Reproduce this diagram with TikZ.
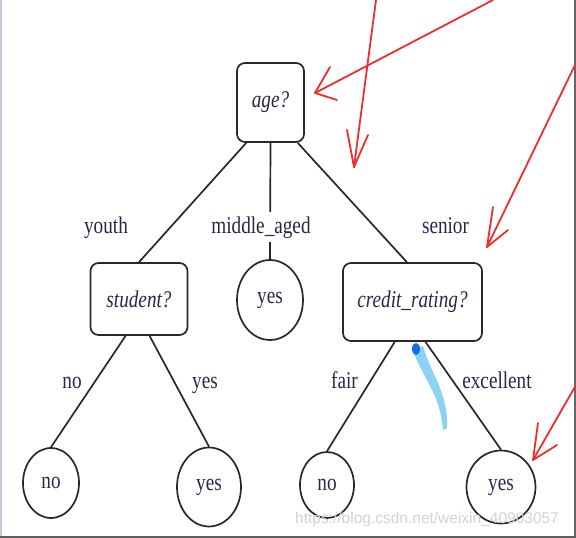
\documentclass[tikz,border=0pt]{standalone}
\usepackage{fontspec}
\setmainfont[FakeStretch=0.8]{Liberation Serif}
\newfontfamily\wmfont{Liberation Sans}
\usepackage{tikz}
\usetikzlibrary{positioning,shapes,calc}

\definecolor{ink}{RGB}{40,40,70}
\definecolor{edge}{RGB}{40,40,40}
\definecolor{mark}{RGB}{238,45,45}
\definecolor{pen}{RGB}{140,210,245}
\definecolor{pentop}{RGB}{20,110,225}
\newcommand{\treefont}{\fontsize{24pt}{28pt}\selectfont}

\begin{document}
\begin{tikzpicture}[x=1pt,y=-1pt,
    test/.style={draw=edge,line width=1.7pt,rounded corners=8pt,inner sep=0pt,
      font=\treefont\itshape,text=ink},
    leaf/.style={draw=edge,line width=1.7pt,ellipse,inner sep=0pt,
      font=\treefont,text=ink},
    lbl/.style={anchor=base,inner sep=0pt,font=\treefont,text=ink},
    branch/.style={draw=edge,line width=1.7pt},
    redmark/.style={draw=mark,line width=1.8pt,line cap=round,line join=round}]
      \useasboundingbox (0,0) rectangle (576,538);
      % frame of the screenshot
      \draw[line width=2pt,blue!25!gray!35] (1,0) -- (1,538);
      \draw[line width=1.5pt,gray!80!black] (575,0) -- (575,538);
      \draw[line width=2pt,gray!75!black] (0,536.5) -- (576,536.5);
      % tree
      \node[test,minimum width=67pt,minimum height=79pt] (age) at (270.5,102.5) {age?};
      \node[test,minimum width=97pt,minimum height=72pt] (student) at (139,299) {student?};
      \node[leaf,minimum width=66pt,minimum height=80pt] (mid) at (270,300) {yes};
      \node[test,minimum width=139pt,minimum height=78pt] (credit) at (412.5,302) {credit\_rating?};
      \node[leaf,minimum width=56pt,minimum height=70pt] (sno) at (51,483) {no};
      \node[leaf,minimum width=64pt,minimum height=79pt] (syes) at (209,487) {yes};
      \node[leaf,minimum width=54pt,minimum height=66pt] (cno) at (327,485) {no};
      \node[leaf,minimum width=69pt,minimum height=73pt] (cyes) at (501,487) {yes};
      \draw[branch] (age.239) -- (student.north);
      \draw[branch] (age.south) -- (mid.north);
      \draw[branch] (age.304) -- (credit.98);
      \draw[branch] (student.250) -- (sno.north);
      \draw[branch] (student.286) -- (syes.north);
      \draw[branch] (credit.246) -- (cno.north);
      \draw[branch] (credit.288) -- (cyes.north);
      % branch labels
      \node[lbl] (youth) at (106,233) {youth};
      \node[lbl,fill=white,inner sep=4pt] (middle) at (261,233) {middle\_aged};
      \node[lbl] (senior) at (445.5,233) {senior};
      \node[lbl] (no) at (72,388) {no};
      \node[lbl] (yes) at (205,388) {yes};
      \node[lbl] (fair) at (344.5,388) {fair};
      \node[lbl] (excellent) at (497,388) {excellent};
      % red marks drawn over the screenshot
      \coordinate (r1) at (376,0);   \coordinate (t1) at (354,167);
      \coordinate (r2) at (493,0);   \coordinate (t2) at (315,93);
      \coordinate (r3) at (575,65);  \coordinate (t3) at (487,247);
      \coordinate (r4) at (576,385); \coordinate (t4) at (533,460);
      \draw[redmark] (r1) -- (t1);
      \draw[redmark] (347,130) -- (t1) -- (368,135);
      \draw[redmark] (r2) -- (t2);
      \draw[redmark] (330,67) -- (t2) -- (337,100);
      \draw[redmark] (r3) -- (t3);
      \draw[redmark] (493,207) -- (t3) -- (508,230);
      \draw[redmark] (r4) -- (t4);
      \draw[redmark] (538,423) -- (t4) -- (557,445);
      % blue pen stroke
      \fill[pen] (413,350) .. controls (421,376) and (440,392) .. (443,430)
        -- (447,428) .. controls (449,394) and (430,372) .. (423,346) -- cycle;
      \fill[pentop] (416,349) ellipse (4pt and 6pt);
      % watermark
      \node[anchor=base west,inner sep=0pt,text=gray!35,
        font=\wmfont\fontsize{15.5pt}{18pt}\selectfont] (wm) at (295,523)
        {https://blog.csdn.net/weixin\_40903057};
    \end{tikzpicture}
\end{document}
